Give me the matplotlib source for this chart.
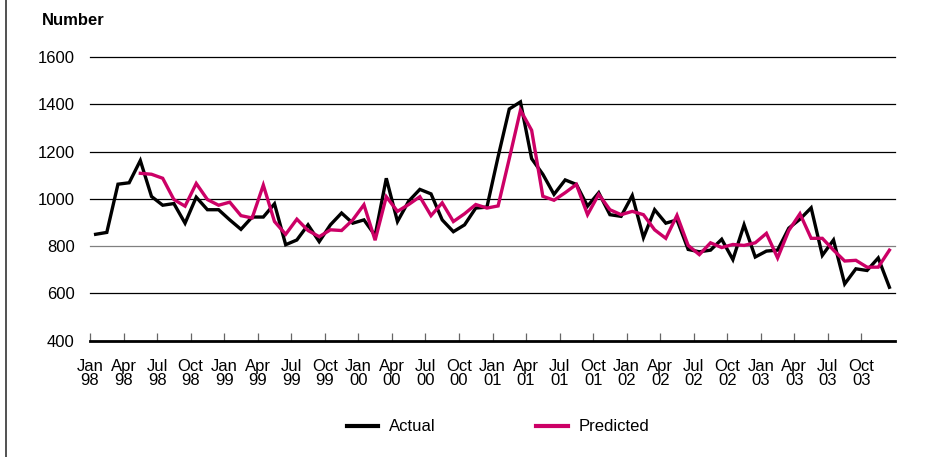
import matplotlib
matplotlib.use("Agg")
import matplotlib.pyplot as plt
from matplotlib.lines import Line2D
import numpy as np

# ---- data (monthly, Jan 1998 - Dec 2003) ----
actual = [850, 858, 1062, 1068, 1162, 1010, 973, 980, 897, 1007, 954, 954,
          911, 871, 923, 923, 979, 806, 826, 890, 819, 890, 940, 897,
          911, 845, 1087, 904, 990, 1040, 1021, 911, 861, 890, 961, 965,
          1178, 1380, 1410, 1170, 1104, 1019, 1080, 1061, 969, 1026, 933, 926,
          1014, 836, 954, 897, 911, 786, 776, 783, 829, 743, 890, 754,
          779, 783, 876, 914, 962, 761, 826, 640, 704, 697, 750, 626]
# Predicted begins May 1998 (index 4)
pred_start = 4
predicted = [1108, 1104, 1087, 997, 969, 1065, 997, 973, 986, 929, 919, 1058,
             904, 850, 914, 866, 840, 869, 866, 911, 975, 825, 1009, 947,
             976, 1009, 929, 983, 904, 937, 976, 961, 970, 1170, 1375, 1290,
             1011, 994, 1026, 1061, 933, 1019, 954, 933, 947, 933, 869, 833,
             930, 803, 764, 814, 794, 807, 803, 814, 854, 750, 866, 937,
             833, 833, 783, 737, 740, 711, 711, 783]
months = ["Jan", "Apr", "Jul", "Oct"]
years = ["98", "99", "00", "01", "02", "03"]
y_ticks = [400, 600, 800, 1000, 1200, 1400, 1600]
series_names = ["Actual", "Predicted"]
colors = ["#000000", "#CC0066"]

plt.rcParams['font.family'] = ['Liberation Sans', 'DejaVu Sans']

fig = plt.figure(figsize=(9.29, 4.57), dpi=100)
ax = fig.add_axes([0.0969, 0.2545, 0.8665, 0.6208])

x_act = np.arange(len(actual)) + 0.5
x_pred = np.arange(pred_start, pred_start + len(predicted)) + 0.5

# gridlines
for v in y_ticks[1:]:
    ax.axhline(v, color='#808080' if v == 800 else '#000000', lw=0.9, zorder=1,
               clip_on=False)

ax.plot(x_act, actual, color=colors[0], lw=2.4, zorder=3, solid_joinstyle='miter')
ax.plot(x_pred, predicted, color=colors[1], lw=2.4, zorder=4, solid_joinstyle='miter')

ax.set_xlim(0, 72)
ax.set_ylim(400, 1600)
for s in ['top', 'right', 'left']:
    ax.spines[s].set_visible(False)
ax.spines['bottom'].set_linewidth(2.0)
ax.spines['bottom'].set_zorder(5)

ax.set_yticks(y_ticks)
ax.set_yticklabels([str(v) for v in y_ticks], fontsize=12)
ax.tick_params(axis='y', length=0, pad=11)

ticks = np.arange(0, 72, 3)
labels = [f"{months[(t // 3) % 4]}\n{years[t // 12]}" for t in ticks]
ax.set_xticks(ticks)
ax.set_xticklabels(labels, fontsize=12, linespacing=0.95)
ax.tick_params(axis='x', direction='in', length=6, width=0.9, color='#666666', pad=13)

fig.text(0.045, 0.955, "Number", fontsize=12, fontweight='bold',
         va='center', ha='left')

handles = [Line2D([0], [0], color=c, lw=3) for c in colors]
fig.legend(handles, series_names, loc='center', bbox_to_anchor=(0.536, 0.066),
           ncol=2, frameon=False, fontsize=12, handlelength=1.9,
           columnspacing=6.0, handletextpad=0.65)

# left border line of the figure frame
fig.add_artist(Line2D([0.006, 0.006], [0, 1], color='#333333', lw=1.2,
                      transform=fig.transFigure))

fig.savefig("out.png", dpi=100)
